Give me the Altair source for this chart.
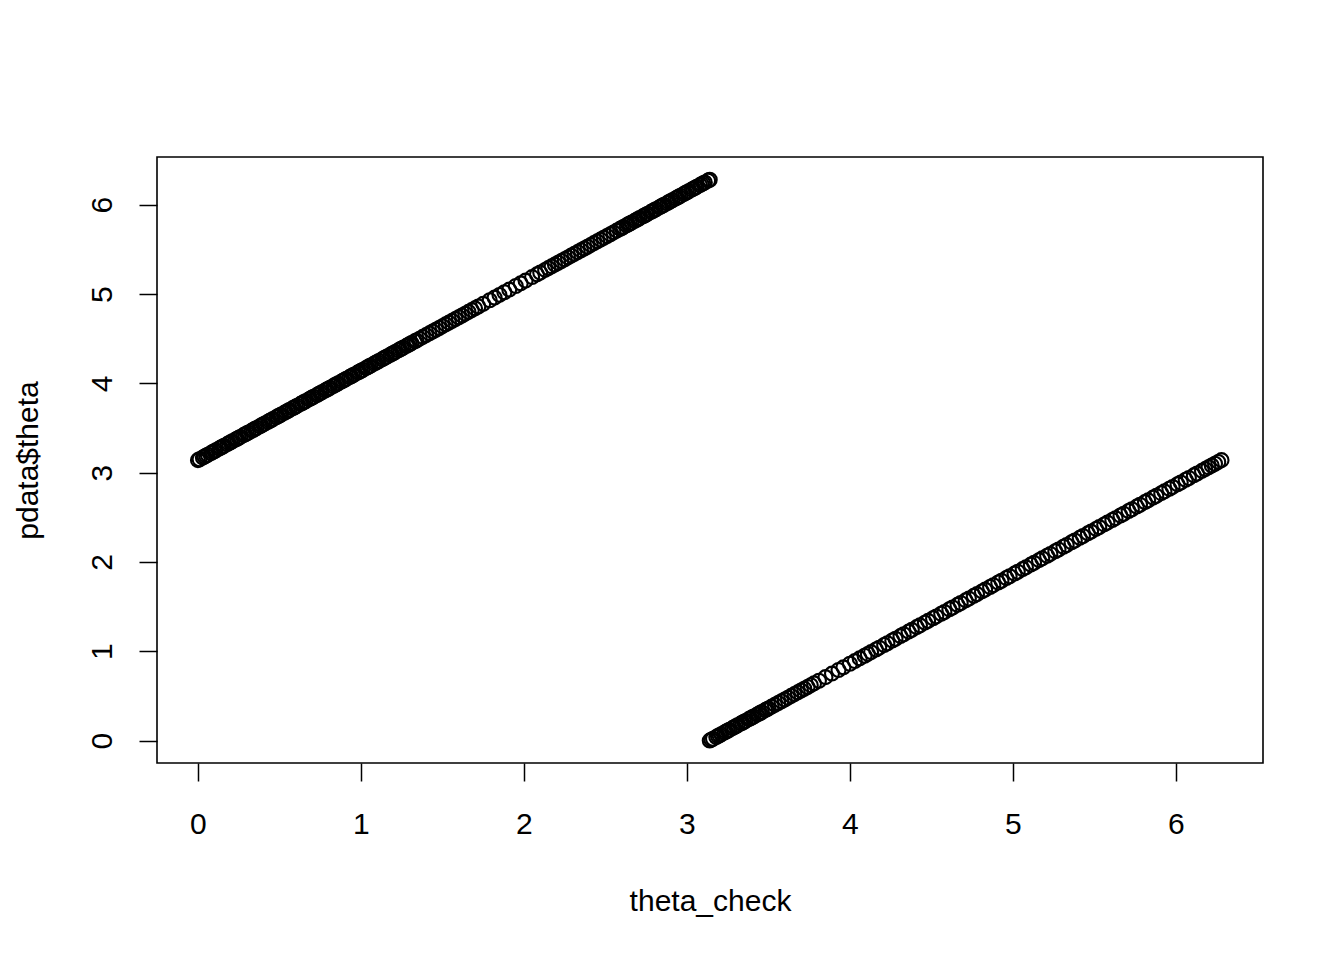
import altair as alt
import pandas as pd

# Upper segment (theta_check, pdata$theta)
theta_check_a = [
    0.00, 0.01, 0.03, 0.04, 0.05, 0.06, 0.08, 0.09,
    0.10, 0.11, 0.13, 0.14, 0.15, 0.16, 0.18, 0.19,
    0.20, 0.21, 0.23, 0.24, 0.25, 0.26, 0.28, 0.29,
    0.30, 0.31, 0.33, 0.34, 0.35, 0.36, 0.38, 0.39,
    0.40, 0.41, 0.43, 0.44, 0.45, 0.46, 0.48, 0.49,
    0.50, 0.51, 0.53, 0.54, 0.55, 0.56, 0.58, 0.59,
    0.60, 0.61, 0.63, 0.64, 0.65, 0.66, 0.68, 0.69,
    0.70, 0.71, 0.73, 0.74, 0.75, 0.76, 0.78, 0.79,
    0.80, 0.81, 0.83, 0.84, 0.85, 0.86, 0.88, 0.89,
    0.90, 0.91, 0.93, 0.94, 0.95, 0.96, 0.98, 0.99,
    1.00, 1.01, 1.03, 1.04, 1.05, 1.06, 1.08, 1.09,
    1.10, 1.11, 1.13, 1.14, 1.15, 1.16, 1.18, 1.19,
    1.20, 1.21, 1.23, 1.24, 1.25, 1.26, 1.28, 1.29,
    1.30, 1.31, 1.33, 1.34, 1.36, 1.38,
    1.40, 1.42, 1.44, 1.46, 1.48, 1.50, 1.52, 1.54, 1.56, 1.58, 1.60, 1.62, 1.64, 1.66, 1.68, 1.70, 1.72,
    1.75, 1.79, 1.82, 1.85, 1.88, 1.91, 1.95, 1.98, 2.01, 2.05, 2.08,
    2.10, 2.13, 2.15,
    2.17, 2.19, 2.21, 2.23, 2.25, 2.27, 2.29, 2.31, 2.33, 2.35, 2.37, 2.39, 2.41, 2.43, 2.45, 2.47,
    2.49, 2.51, 2.53, 2.55, 2.57, 2.59,
    2.60, 2.61, 2.63, 2.64, 2.65, 2.66, 2.68, 2.69,
    2.70, 2.71, 2.73, 2.74, 2.75, 2.76, 2.78, 2.79,
    2.80, 2.81, 2.83, 2.84, 2.85, 2.86, 2.88, 2.89,
    2.90, 2.91, 2.93, 2.94, 2.95, 2.96, 2.98, 2.99,
    3.00, 3.01, 3.03, 3.04, 3.05, 3.06, 3.08, 3.09,
    3.10, 3.11, 3.13, 3.14,
]
theta_a = [
    3.14, 3.15, 3.17, 3.18, 3.19, 3.20, 3.22, 3.23,
    3.24, 3.25, 3.27, 3.28, 3.29, 3.30, 3.32, 3.33,
    3.34, 3.35, 3.37, 3.38, 3.39, 3.40, 3.42, 3.43,
    3.44, 3.45, 3.47, 3.48, 3.49, 3.50, 3.52, 3.53,
    3.54, 3.55, 3.57, 3.58, 3.59, 3.60, 3.62, 3.63,
    3.64, 3.65, 3.67, 3.68, 3.69, 3.70, 3.72, 3.73,
    3.74, 3.75, 3.77, 3.78, 3.79, 3.80, 3.82, 3.83,
    3.84, 3.85, 3.87, 3.88, 3.89, 3.90, 3.92, 3.93,
    3.94, 3.95, 3.97, 3.98, 3.99, 4.00, 4.02, 4.03,
    4.04, 4.05, 4.07, 4.08, 4.09, 4.10, 4.12, 4.13,
    4.14, 4.15, 4.17, 4.18, 4.19, 4.20, 4.22, 4.23,
    4.24, 4.25, 4.27, 4.28, 4.29, 4.30, 4.32, 4.33,
    4.34, 4.35, 4.37, 4.38, 4.39, 4.40, 4.42, 4.43,
    4.44, 4.45, 4.47, 4.48, 4.50, 4.52,
    4.54, 4.56, 4.58, 4.60, 4.62, 4.64, 4.66, 4.68, 4.70, 4.72, 4.74, 4.76, 4.78, 4.80, 4.82, 4.84, 4.86,
    4.89, 4.93, 4.96, 4.99, 5.02, 5.05, 5.09, 5.12, 5.15, 5.19, 5.22,
    5.24, 5.27, 5.29,
    5.31, 5.33, 5.35, 5.37, 5.39, 5.41, 5.43, 5.45, 5.47, 5.49, 5.51, 5.53, 5.55, 5.57, 5.59, 5.61,
    5.63, 5.65, 5.67, 5.69, 5.71, 5.73,
    5.74, 5.75, 5.77, 5.78, 5.79, 5.80, 5.82, 5.83,
    5.84, 5.85, 5.87, 5.88, 5.89, 5.90, 5.92, 5.93,
    5.94, 5.95, 5.97, 5.98, 5.99, 6.00, 6.02, 6.03,
    6.04, 6.05, 6.07, 6.08, 6.09, 6.10, 6.12, 6.13,
    6.14, 6.15, 6.17, 6.18, 6.19, 6.20, 6.22, 6.23,
    6.24, 6.25, 6.27, 6.28,
]

# Lower segment
theta_check_b = [
    3.14, 3.15, 3.16, 3.18, 3.19,
    3.20, 3.21, 3.23, 3.24, 3.25, 3.26, 3.28, 3.29,
    3.30, 3.31, 3.33, 3.34, 3.35, 3.36, 3.38, 3.39,
    3.40, 3.41, 3.43, 3.44, 3.45, 3.46, 3.48, 3.49,
    3.50, 3.52, 3.54, 3.56, 3.58, 3.60, 3.62, 3.64, 3.66, 3.68, 3.70, 3.72, 3.74, 3.76, 3.78,
    3.81, 3.85, 3.89, 3.93, 3.96, 4.00, 4.03, 4.06, 4.09,
    4.11, 4.13, 4.16, 4.18, 4.21, 4.23, 4.26, 4.28, 4.31, 4.33, 4.36, 4.38, 4.41, 4.43, 4.46, 4.48,
    4.51, 4.53, 4.56, 4.58, 4.61, 4.63, 4.66, 4.68, 4.71, 4.73, 4.76, 4.78, 4.81, 4.83, 4.86, 4.88,
    4.91, 4.93, 4.96, 4.98, 5.01, 5.03, 5.06, 5.08, 5.11, 5.13, 5.16, 5.18, 5.21, 5.23, 5.26, 5.28,
    5.31, 5.33, 5.36, 5.38, 5.41, 5.43, 5.46, 5.48, 5.51, 5.53, 5.56, 5.58, 5.61, 5.63, 5.66, 5.68,
    5.71, 5.73, 5.76, 5.78, 5.81, 5.83, 5.86, 5.88, 5.91, 5.93, 5.96, 5.98, 6.01, 6.03, 6.06, 6.08,
    6.11, 6.13, 6.16, 6.18, 6.20, 6.22, 6.24, 6.26, 6.28,
]
theta_b = [
    0.00, 0.01, 0.02, 0.04, 0.05,
    0.06, 0.07, 0.09, 0.10, 0.11, 0.12, 0.14, 0.15,
    0.16, 0.17, 0.19, 0.20, 0.21, 0.22, 0.24, 0.25,
    0.26, 0.27, 0.29, 0.30, 0.31, 0.32, 0.34, 0.35,
    0.36, 0.38, 0.40, 0.42, 0.44, 0.46, 0.48, 0.50, 0.52, 0.54, 0.56, 0.58, 0.60, 0.62, 0.64,
    0.67, 0.71, 0.75, 0.79, 0.82, 0.86, 0.89, 0.92, 0.95,
    0.97, 0.99, 1.02, 1.04, 1.07, 1.09, 1.12, 1.14, 1.17, 1.19, 1.22, 1.24, 1.27, 1.29, 1.32, 1.34,
    1.37, 1.39, 1.42, 1.44, 1.47, 1.49, 1.52, 1.54, 1.57, 1.59, 1.62, 1.64, 1.67, 1.69, 1.72, 1.74,
    1.77, 1.79, 1.82, 1.84, 1.87, 1.89, 1.92, 1.94, 1.97, 1.99, 2.02, 2.04, 2.07, 2.09, 2.12, 2.14,
    2.17, 2.19, 2.22, 2.24, 2.27, 2.29, 2.32, 2.34, 2.37, 2.39, 2.42, 2.44, 2.47, 2.49, 2.52, 2.54,
    2.57, 2.59, 2.62, 2.64, 2.67, 2.69, 2.72, 2.74, 2.77, 2.79, 2.82, 2.84, 2.87, 2.89, 2.92, 2.94,
    2.97, 2.99, 3.02, 3.04, 3.06, 3.08, 3.10, 3.12, 3.14,
]

tick_values = [0, 1, 2, 3, 4, 5, 6]

df = pd.DataFrame({
    "theta_check": theta_check_a + theta_check_b,
    "theta": theta_a + theta_b,
})

FONT = "Liberation Sans"
FS = 30

chart = alt.Chart(df).mark_point(
    shape="circle", filled=False, size=195, stroke="black", strokeWidth=2.1, opacity=1
).encode(
    x=alt.X("theta_check:Q",
            scale=alt.Scale(domain=[-0.2513, 6.5345], nice=False, zero=False),
            axis=alt.Axis(values=tick_values, title="theta_check", grid=False, domain=False,
                          tickSize=18, tickWidth=1.5, tickColor="black",
                          labelPadding=28, labelFont=FONT, labelFontSize=FS, labelColor="black",
                          labelFlush=False, labelOverlap=False,
                          titleFont=FONT, titleFontSize=FS, titleFontWeight="normal", titleColor="black",
                          titleBaseline="alphabetic", titleY=147, titleX=553)),
    y=alt.Y("theta:Q",
            scale=alt.Scale(domain=[-0.2513, 6.5345], nice=False, zero=False),
            axis=alt.Axis(values=tick_values, title="pdata$theta", grid=False, domain=False,
                          tickSize=18, tickWidth=1.5, tickColor="black",
                          labelPadding=28, labelFont=FONT, labelFontSize=FS, labelColor="black",
                          labelAngle=270, labelAlign="center", labelBaseline="alphabetic",
                          labelFlush=False, labelOverlap=False,
                          titleFont=FONT, titleFontSize=FS, titleFontWeight="normal", titleColor="black",
                          titleAngle=270, titleAlign="center", titleBaseline="alphabetic",
                          titleX=-120, titleY=303)),
).properties(
    width=1106, height=606,
    autosize=alt.AutoSizeParams(type="none"),
    padding={"left": 149, "top": 149, "right": 73, "bottom": 180},
).configure_view(
    stroke="black", strokeWidth=1.6
)

chart.save("out.html", embed_options={"renderer": "svg", "actions": False})
